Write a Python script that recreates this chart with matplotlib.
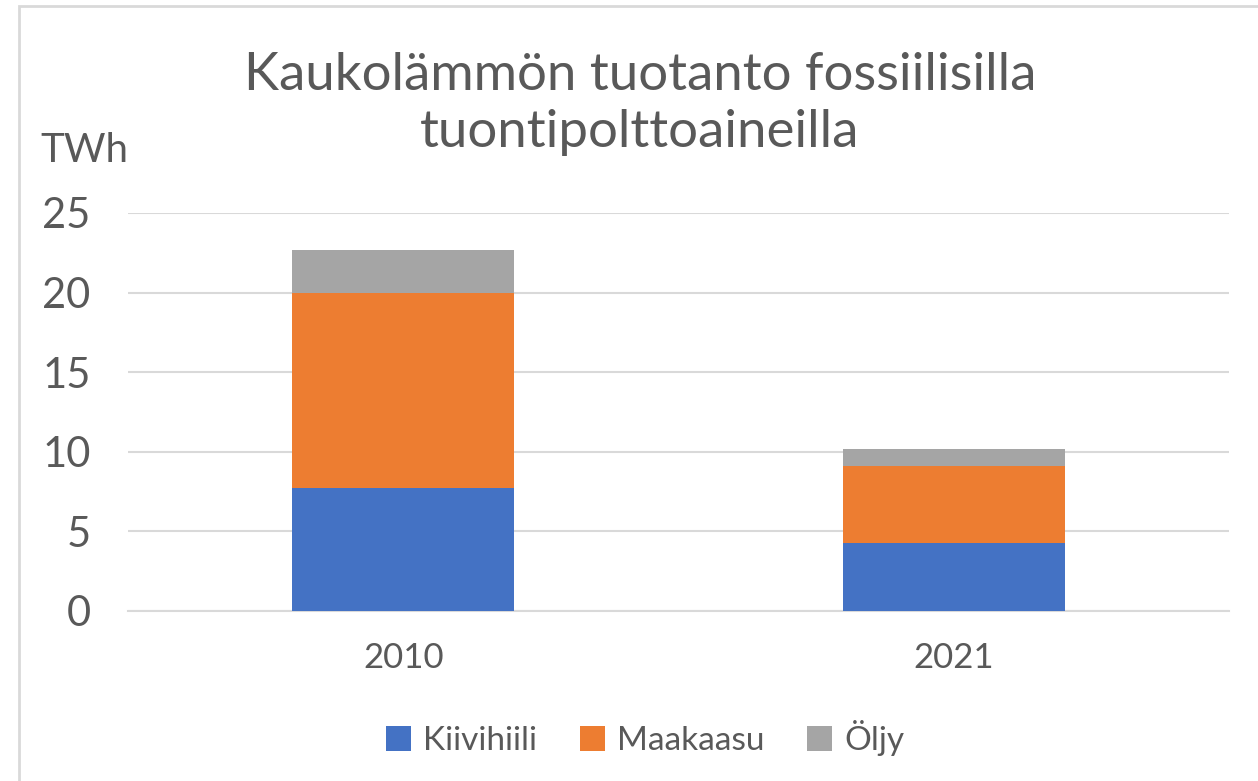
import matplotlib.pyplot as plt
from matplotlib.patches import Rectangle
import numpy as np

plt.rcParams['font.family'] = ['Lato', 'DejaVu Sans']

years = ['2010', '2021']
kiivihiili = [7.7, 4.3]
maakaasu = [12.3, 4.8]
oljy = [2.7, 1.1]

labels = ['Kiivihiili', 'Maakaasu', 'Öljy']
colors = ['#4472C4', '#ED7D31', '#A5A5A5']
txt = '#595959'

W, H = 1258, 781
fig = plt.figure(figsize=(W / 100, H / 100), dpi=100)
ax = fig.add_axes([128 / W, 1 - 611 / H, (1229 - 128) / W, (611 - 213) / H])

x = np.arange(len(years))
bottom = np.zeros(len(years))
for vals, lab, col in zip([kiivihiili, maakaasu, oljy], labels, colors):
    ax.bar(x, vals, 0.404, bottom=bottom, color=col, label=lab, zorder=3)
    bottom += np.array(vals)

ax.set_xlim(-0.5, 1.5)
ax.set_ylim(0, 25)
ax.set_yticks([0, 5, 10, 15, 20, 25])
ax.set_xticks(x)
ax.set_xticklabels(years)
ax.yaxis.grid(True, color='#D9D9D9', linewidth=1.5, zorder=0)
for s in ['top', 'right', 'left']:
    ax.spines[s].set_visible(False)
ax.spines['bottom'].set_color('#D9D9D9')
ax.spines['bottom'].set_linewidth(1.5)
ax.tick_params(axis='y', length=0, labelsize=30, labelcolor=txt, pad=27)
ax.tick_params(axis='x', length=0, labelsize=25, labelcolor=txt, pad=22)

fig.text(40 / W, 1 - 150 / H, 'TWh', fontsize=29, color=txt, va='center', ha='left')
fig.text(640 / W, 1 - 104 / H, 'Kaukolämmön tuotanto fossiilisilla\ntuontipolttoaineilla',
         fontsize=38, color=txt, ha='center', va='center', linespacing=1.28)

leg = fig.legend(loc='center', bbox_to_anchor=(645 / W, 1 - 738 / H), ncol=3, frameon=False,
                 fontsize=24, handlelength=0.75, handleheight=0.75, handletextpad=0.35,
                 columnspacing=1.3)
for t in leg.get_texts():
    t.set_color(txt)

fig.patches.append(Rectangle((19 / W, -0.1), 1.2, 1 - 6 / H + 0.1, transform=fig.transFigure,
                             fill=False, edgecolor='#D9D9D9', linewidth=2))

fig.savefig('out.png', dpi=100)
